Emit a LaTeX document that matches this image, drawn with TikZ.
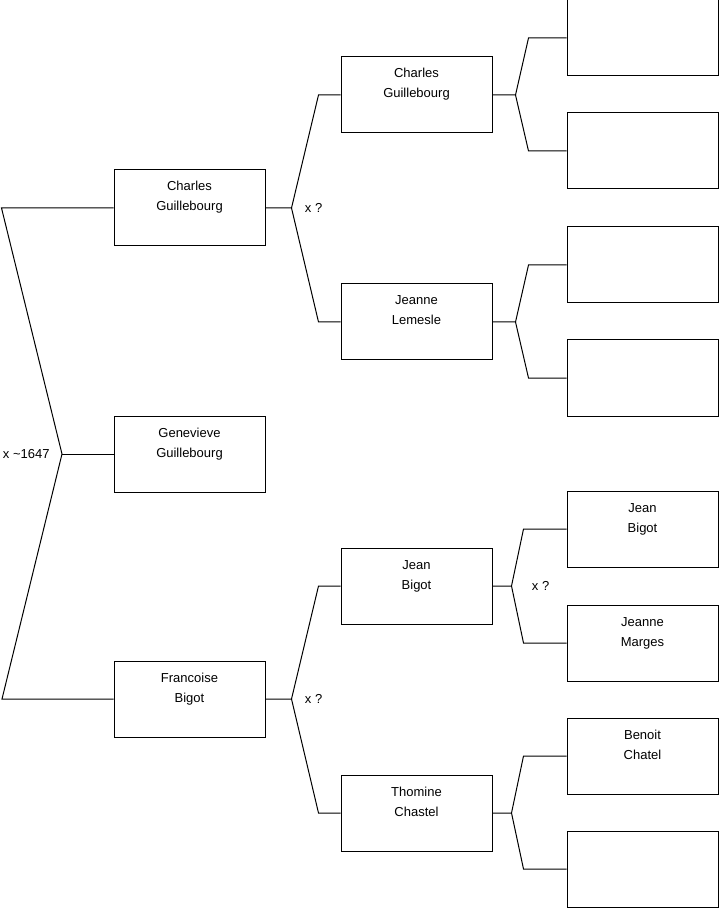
\documentclass[tikz,border=0pt]{standalone}
\usepackage{fontspec}
\setmainfont{Liberation Sans}
\usetikzlibrary{positioning, calc}

\begin{document}
\begin{tikzpicture}[
    x=0.5pt, y=-0.5pt,
    person/.style={rectangle, draw, line width=0.5pt, minimum width=75.5pt, minimum height=38pt, align=center, inner sep=0pt, text height=14.5pt, text depth=11.5pt, font=\fontsize{6.5}{10}\selectfont},
    link/.style={line width=0.5pt},
    marriage/.style={font=\fontsize{6.5}{10}\selectfont, inner sep=0pt}
]
\useasboundingbox (0,0) rectangle (719,908);

% ===== GENERATION 1: CHILD AND PARENTS =====
\node[person] (fa) at (189.5,208) {Charles\\Guillebourg};
\node[person] (gen) at (189.5,454) {Genevieve\\Guillebourg};
\node[person] (mo) at (189.5,699) {Francoise\\Bigot};

% ===== GENERATION 2: GRANDPARENTS =====
\node[person] (ff) at (416.5,95) {Charles\\Guillebourg};
\node[person] (fm) at (416.5,322) {Jeanne\\Lemesle};
\node[person] (mf) at (416.5,586) {Jean\\Bigot};
\node[person] (mm) at (416.5,813) {Thomine\\Chastel};

% ===== GENERATION 3: GREAT-GRANDPARENTS =====
\node[person] (fff) at (642.5,38) {};
\node[person] (ffm) at (642.5,151) {};
\node[person] (fmf) at (642.5,265) {};
\node[person] (fmm) at (642.5,378) {};
\node[person] (mff) at (642.5,529) {Jean\\Bigot};
\node[person] (mfm) at (642.5,643) {Jeanne\\Marges};
\node[person] (mmf) at (642.5,756) {Benoit\\Chatel};
\node[person] (mmm) at (642.5,869) {};

% ===== LINKS: child -> parents =====
\coordinate (gen-x) at (62,454);
\draw[link] (fa.west) -- ++(-112,0) -- (gen-x) -- ++(-60,245) -- (mo.west);
\draw[link] (gen-x) -- (gen.west);
\node[marriage, anchor=east] (m0) at ([xshift=-6pt]gen-x) {x \textasciitilde1647};

% ===== LINKS: parents -> grandparents =====
\draw[link] (fa.east) -- ++(26,0) coordinate (fa-x) -- ([xshift=-11pt]ff.west) -- (ff.west);
\draw[link] (fa-x) -- ([xshift=-11pt]fm.west) -- (fm.west);
\node[marriage, anchor=west] (m1) at ([xshift=6.5pt]fa-x) {x ?};

\draw[link] (mo.east) -- ++(26,0) coordinate (mo-x) -- ([xshift=-11pt]mf.west) -- (mf.west);
\draw[link] (mo-x) -- ([xshift=-11pt]mm.west) -- (mm.west);
\node[marriage, anchor=west] (m2) at ([xshift=6.5pt]mo-x) {x ?};

% ===== LINKS: grandparents -> great-grandparents =====
\draw[link] (ff.east) -- ++(23,0) coordinate (ff-x) -- ([xshift=-19pt]fff.west) -- (fff.west);
\draw[link] (ff-x) -- ([xshift=-19pt]ffm.west) -- (ffm.west);

\draw[link] (fm.east) -- ++(23,0) coordinate (fm-x) -- ([xshift=-19pt]fmf.west) -- (fmf.west);
\draw[link] (fm-x) -- ([xshift=-19pt]fmm.west) -- (fmm.west);

\draw[link] (mf.east) -- ++(19,0) coordinate (mf-x) -- ([xshift=-21.5pt]mff.west) -- (mff.west);
\draw[link] (mf-x) -- ([xshift=-21.5pt]mfm.west) -- (mfm.west);
\node[marriage, anchor=west] (m3) at ([xshift=10pt]mf-x) {x ?};

\draw[link] (mm.east) -- ++(19,0) coordinate (mm-x) -- ([xshift=-21.5pt]mmf.west) -- (mmf.west);
\draw[link] (mm-x) -- ([xshift=-21.5pt]mmm.west) -- (mmm.west);

\end{tikzpicture}
\end{document}
